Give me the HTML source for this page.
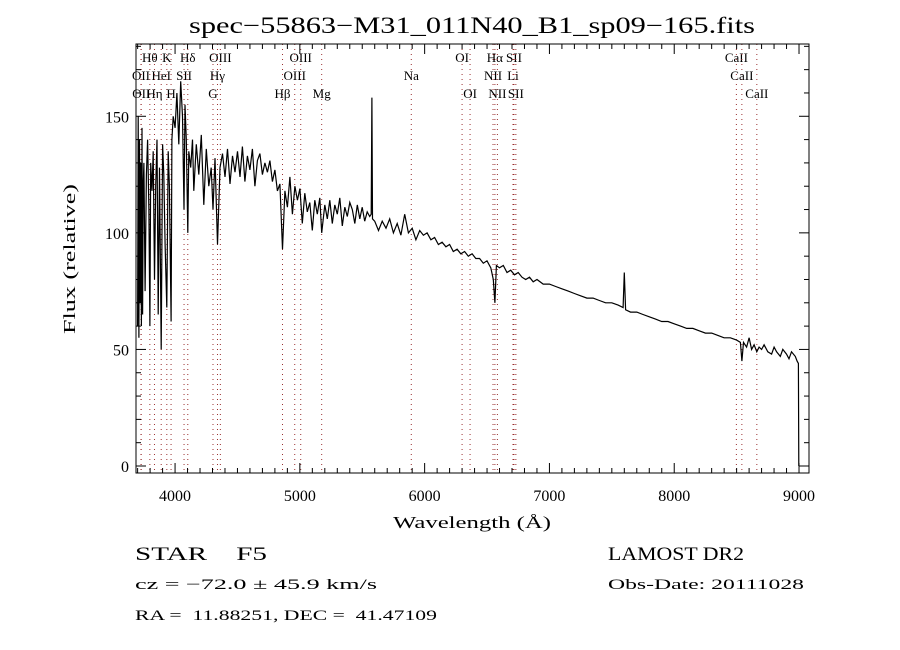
<!DOCTYPE html>
<html><head><meta charset="utf-8"><style>
html,body{margin:0;padding:0;background:#fff}
svg{display:block}
text{font-family:"Liberation Serif",serif;fill:#000}
</style></head><body>
<svg id="chart" width="900" height="650" viewBox="0 0 900 650">
<text x="472" y="33" text-anchor="middle" font-size="23" textLength="566" lengthAdjust="spacingAndGlyphs">spec−55863−M31_011N40_B1_sp09−165.fits</text>
<g id="lines"></g>
<g id="axes"></g>
<polyline id="spec" fill="none" stroke="#000" stroke-width="1.2"/>
<rect x="136" y="44" width="673" height="429" fill="none" stroke="#000" stroke-width="1"/>
<text transform="translate(75,259) rotate(-90)" text-anchor="middle" font-size="17" textLength="150" lengthAdjust="spacingAndGlyphs">Flux (relative)</text>
<text x="472" y="528" text-anchor="middle" font-size="17" textLength="158" lengthAdjust="spacingAndGlyphs">Wavelength (Å)</text>
<text x="135" y="560" font-size="19" textLength="132" lengthAdjust="spacingAndGlyphs" xml:space="preserve">STAR&#160;&#160;&#160;&#160;F5</text>
<text x="135" y="589" font-size="15" textLength="242" lengthAdjust="spacingAndGlyphs">cz = −72.0 ± 45.9 km/s</text>
<text x="135" y="620" font-size="15" textLength="302" lengthAdjust="spacingAndGlyphs" xml:space="preserve">RA =&#160;&#160;11.88251, DEC =&#160;&#160;41.47109</text>
<text x="608" y="560" font-size="19" textLength="136" lengthAdjust="spacingAndGlyphs">LAMOST DR2</text>
<text x="608" y="589" font-size="15" textLength="196" lengthAdjust="spacingAndGlyphs">Obs-Date: 20111028</text>
</svg>
<script>
const wavelengths=[
3700,3705,3710,3715,3720,3725,3730,3735,3740,3745,
3750,3760,3770,3780,3790,3798,3805,3815,3825,3835,
3845,3855,3865,3875,3889,3900,3910,3920,3934,3945,
3955,3968,3975,3985,4000,4015,4030,4045,4060,4072,
4080,4090,4102,4110,4125,4140,
4150,4170,4190,4210,4230,4250,4270,4290,4304,4320,
4340,4360,4380,4400,4420,4440,4460,4480,4500,4520,
4540,4560,4580,4600,4620,4640,4660,4680,4700,4720,
4740,4760,4780,4800,4820,4840,4861,4880,4900,4920,
4940,4960,4980,5000,5020,5040,5060,5080,5100,5120,
5140,5160,5175,5200,5220,5240,5260,5280,5300,5320,
5340,5360,5380,5400,5420,5440,5460,5480,5500,5520,
5540,5560,5572,5577,5582,5600,5630,5660,5690,5720,
5750,5780,5810,5840,5870,5900,5930,5960,5990,6020,
6050,6080,6110,6140,6170,6200,6230,6260,6290,6320,
6350,6380,6410,6440,6470,6500,6530,6550,6563,6575,
6600,6630,6660,6690,6720,6750,6780,6810,6840,6870,
6900,6950,7000,7050,7100,7150,7200,7250,7300,7350,
7400,7450,7500,7550,7590,7600,7610,7650,7700,7750,
7800,7850,7900,7950,8000,8050,8100,8150,8200,8250,
8300,8350,8400,8450,8500,8530,8542,8555,8580,8600,
8620,8640,8662,8680,8700,8720,8750,8780,8800,8820,
8850,8870,8900,8920,8940,8970,8985,8995,8998];
const flux=[
60,150,55,140,70,130,60,145,65,120,
130,75,125,140,110,60,130,118,135,80,
120,140,65,128,50,138,125,95,68,135,
120,62,140,150,145,160,138,165,150,110,
155,140,100,135,128,140,
118,138,125,142,112,136,120,128,110,132,
95,128,134,124,136,121,133,126,135,124,
137,122,133,127,136,120,131,134,125,130,
126,131,122,127,118,121,93,118,111,124,
108,120,114,119,104,117,109,113,101,114,
108,115,100,112,106,114,104,112,108,115,
103,111,107,113,110,104,112,106,111,105,
109,107,108,158,106,105,101,105,102,106,
100,104,99,108,100,102,97,101,99,100,
97,98,95,96,94,95,92,93,91,92,
90,91,89,89,87,88,85,80,70,86,
85,86,83,84,82,83,81,80,81,79,
80,78,78,77,76,75,74,73,72,72,
71,70,70,69,68,83,67,66,66,65,
64,63,62,62,61,60,59,59,58,57,
57,56,55,55,54,53,45,53,51,55,
50,52,49,51,50,52,49,48,51,49,
47,50,48,46,49,47,45,44,0];
const tickX=[4000,5000,6000,7000,8000,9000];
const tickY=[0,50,100,150];
const lineWl=[3798,3934,4102,4363,5007,6300,6563,6716,8498,3727,3889,4072,4340,4959,5893,6548,6708,8542,3729,3835,3968,4304,4861,5175,6364,6583,6731,8662];
const lineLbl=["Hθ","K","Hδ","OIII","OIII","OI","Hα","SII","CaII","OII","HeI","SII","Hγ","OIII","Na","NII","Li","CaII","OII","Hη","H","G","Hβ","Mg","OI","NII","SII","CaII"];
const lineRow=[0,0,0,0,0,0,0,0,0,1,1,1,1,1,1,1,1,1,2,2,2,2,2,2,2,2,2,2];

const X0=136,X1=809,Y0=44,Y1=473;
const xMin=3687,xMax=9080,yMin=-3,yMax=181;
const sx=w=>X0+(w-xMin)/(xMax-xMin)*(X1-X0);
const sy=f=>Y1-(f-yMin)/(yMax-yMin)*(Y1-Y0);
const NS="http://www.w3.org/2000/svg";
function mk(tag,attrs,parent){const e=document.createElementNS(NS,tag);for(const k in attrs)e.setAttribute(k,attrs[k]);parent.appendChild(e);return e;}

const spec=document.getElementById('spec');
const n=Math.min(wavelengths.length,flux.length);
const pts=[];
for(let i=0;i<n;i++)pts.push(sx(wavelengths[i]).toFixed(1)+','+sy(flux[i]).toFixed(1));
spec.setAttribute('points',pts.join(' '));

const lg=document.getElementById('lines');
const rowY=[62,80,98];
lineWl.forEach((w,i)=>{
  const x=sx(w);
  const l=mk('line',{x1:x,x2:x,y1:Y0,y2:Y1,stroke:'#9a3030','stroke-width':1,'stroke-dasharray':'1,4'},lg);
  
  
  const t=mk('text',{x:x,y:rowY[lineRow[i]],'text-anchor':'middle','font-size':13},lg);
  
  
  t.textContent=lineLbl[i];
});

const ax=document.getElementById('axes');
for(let w=3700;w<=9000;w+=100){
  const x=sx(w),major=w%1000===0,len=major?10:5;
  const a=mk('line',{x1:x,x2:x,y1:Y1,y2:Y1-len,stroke:'#000'},ax);
  
  
  const b=mk('line',{x1:x,x2:x,y1:Y0,y2:Y0+len,stroke:'#000'},ax);
  
  
}
tickX.forEach(w=>{
  const t=mk('text',{x:sx(w),y:501,'text-anchor':'middle','font-size':16},ax);
  
  
  t.textContent=w;
});
for(let f=0;f<=180;f+=10){
  const y=sy(f),major=f%50===0,len=major?10:5;
  const a=mk('line',{x1:X0,x2:X0+len,y1:y,y2:y,stroke:'#000'},ax);
  
  
  const b=mk('line',{x1:X1,x2:X1-len,y1:y,y2:y,stroke:'#000'},ax);
  
  
}
tickY.forEach(f=>{
  const t=mk('text',{x:129,y:sy(f)+6,'text-anchor':'end','font-size':16},ax);
  
  
  t.textContent=f;
});
</script>
</body></html>
